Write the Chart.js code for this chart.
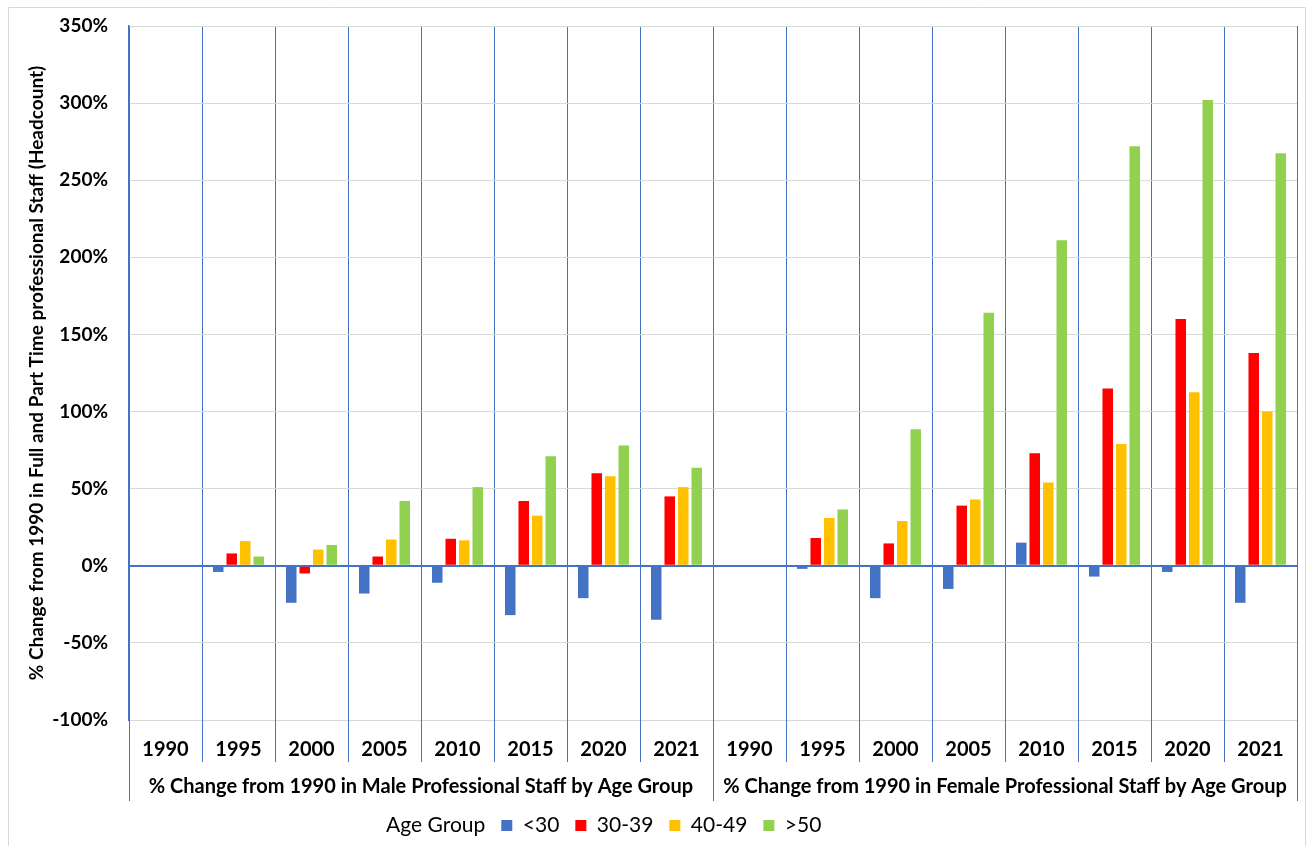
<!DOCTYPE html>
<html>
<head>
<meta charset="utf-8">
<script src="https://cdn.jsdelivr.net/npm/chart.js@4.4.1/dist/chart.umd.min.js"></script>
<style>
  body { margin: 0; background: #fff; }
  #wrap { width: 1311px; height: 846px; }
</style>
</head>
<body>
<div id="wrap"><canvas id="staffChart"></canvas></div>
<script>
// categories: 8 years per group (male, then female)
const years = ["1990", "1995", "2000", "2005", "2010", "2015", "2020", "2021",
               "1990", "1995", "2000", "2005", "2010", "2015", "2020", "2021"];
const groupLabels = [
  "% Change from 1990 in Male Professional Staff by Age Group",
  "% Change from 1990 in Female Professional Staff by Age Group"
];
const ageGroups = ["<30", "30-39", "40-49", ">50"];

// % change from 1990
const under30 = [0, -4, -24, -18, -11, -32, -21, -35,   0, -2, -21, -15, 15, -7, -4, -24];
const age3039 = [0, 8, -5, 6, 17.5, 42, 60, 45,          0, 18, 14.5, 39, 73, 115, 160, 138];
const age4049 = [0, 16, 10.5, 17, 16.5, 32.5, 58, 51,    0, 31, 29, 43, 54, 79, 112.5, 100];
const over50  = [0, 6, 13.5, 42, 51, 71, 78, 63.5,       0, 36.5, 88.5, 164, 211, 272, 302, 267.5];

const colors = ["#4472C4", "#FF0000", "#FFC000", "#92D050"];
const axisBlue = "#4472C4";
const fontFam = "Lato, 'Open Sans', sans-serif";

// extended category separators + group labels under the axis
const groupAxis = {
  id: "groupAxis",
  beforeDraw(chart) {
    const ctx = chart.ctx;
    ctx.save();
    ctx.strokeStyle = "#d9d9d9";
    ctx.lineWidth = 1;
    ctx.beginPath();
    ctx.moveTo(8.5, 846);
    ctx.lineTo(8.5, 7.5);
    ctx.lineTo(1305.5, 7.5);
    ctx.lineTo(1305.5, 846);
    ctx.stroke();
    ctx.restore();
    // legend sits a bit left of centre in the original
    const lg = chart.legend;
    const w = lg.right - lg.left;
    lg.left = 593 - w / 2;
    lg.right = 593 + w / 2;
  },
  afterDraw(chart) {
    const x = chart.scales.x;
    const area = chart.chartArea;
    const ctx = chart.ctx;
    const perGroup = years.length / groupLabels.length;
    ctx.save();
    ctx.strokeStyle = axisBlue;
    ctx.lineWidth = 1;
    for (let i = 0; i <= years.length; i++) {
      const px = Math.round(x.getPixelForValue(i - 0.5)) + 0.5;
      const end = (i % perGroup === 0) ? 801 : 762;
      ctx.beginPath();
      ctx.moveTo(px, area.bottom);
      ctx.lineTo(px, end);
      ctx.stroke();
    }
    ctx.fillStyle = "#000";
    ctx.font = "bold 20px " + fontFam;
    ctx.textAlign = "center";
    ctx.textBaseline = "middle";
    groupLabels.forEach((g, k) => {
      const a = x.getPixelForValue(k * perGroup - 0.5);
      const b = x.getPixelForValue((k + 1) * perGroup - 0.5);
      ctx.fillText(g, (a + b) / 2, 787);
    });
    ctx.restore();
  }
};

new Chart(document.getElementById("staffChart"), {
  type: "bar",
  data: {
    labels: years,
    datasets: [
      { label: ageGroups[0], data: under30, backgroundColor: colors[0] },
      { label: ageGroups[1], data: age3039, backgroundColor: colors[1] },
      { label: ageGroups[2], data: age4049, backgroundColor: colors[2] },
      { label: ageGroups[3], data: over50, backgroundColor: colors[3] }
    ]
  },
  options: {
    responsive: true,
    maintainAspectRatio: false,
    animation: false,
    categoryPercentage: 0.74,
    barPercentage: 0.78,
    layout: { padding: { left: 0, right: 14, top: 26, bottom: 0 } },
    scales: {
      x: {
        grid: { color: axisBlue, lineWidth: 1, drawTicks: false, offset: true },
        border: { display: false },
        ticks: {
          color: "#000",
          font: { family: fontFam, size: 20, weight: "bold" },
          padding: 18,
          maxRotation: 0,
          autoSkip: false
        },
        afterFit(scale) { scale.height = 79; }
      },
      y: {
        min: -100,
        max: 350,
        grid: {
          drawTicks: false,
          color: ctx => (ctx.tick && ctx.tick.value === 0) ? axisBlue : "#d9d9d9",
          lineWidth: ctx => (ctx.tick && ctx.tick.value === 0) ? 2 : 1
        },
        border: { display: true, color: axisBlue, width: 1.5 },
        ticks: {
          stepSize: 50,
          color: "#000",
          font: { family: fontFam, size: 19, weight: "bold" },
          padding: 21,
          callback: v => v + "%"
        },
        title: {
          display: true,
          text: "% Change from 1990 in Full and Part Time professional Staff (Headcount)",
          color: "#000",
          font: { family: fontFam, size: 19, weight: "bold" },
          padding: { top: 25, bottom: 0 }
        },
        afterFit(scale) {
          scale.width = 129;
          scale.paddingTop = 0;
          scale.paddingBottom = 0;
        }
      }
    },
    plugins: {
      legend: {
        position: "bottom",
        labels: {
          color: "#000",
          font: { family: fontFam, size: 21 },
          boxWidth: 11,
          boxHeight: 11,
          padding: 16,
          generateLabels(chart) {
            const items = Chart.defaults.plugins.legend.labels.generateLabels(chart);
            items.forEach(it => { it.lineWidth = 0; });
            items.unshift({ text: "Age Group", fillStyle: "rgba(0,0,0,0)", strokeStyle: "rgba(0,0,0,0)", lineWidth: 0, datasetIndex: -1, hidden: false });
            return items;
          }
        },
        onClick: null
      },
      tooltip: { enabled: false }
    }
  },
  plugins: [groupAxis]
});
</script>
</body>
</html>
